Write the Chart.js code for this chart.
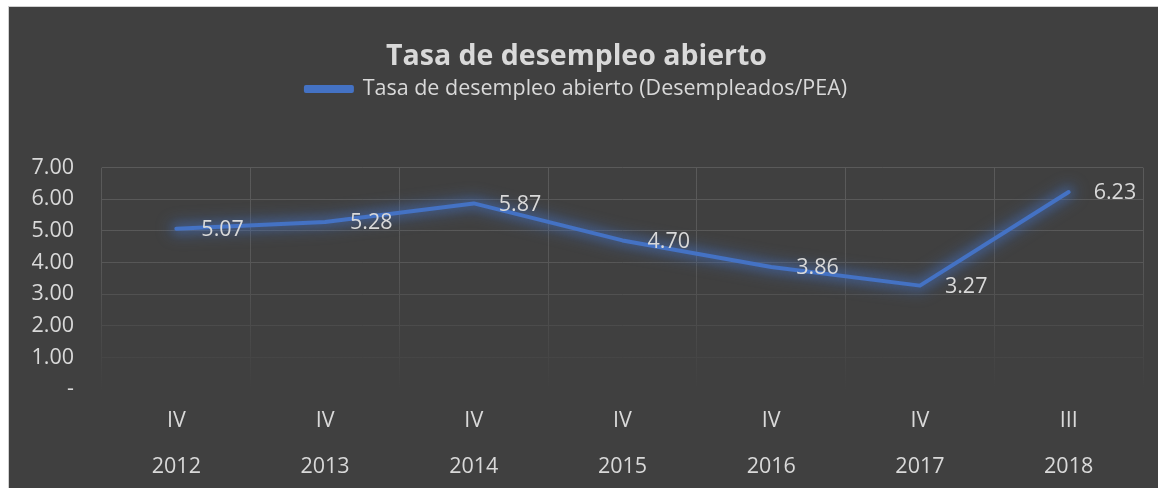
<!DOCTYPE html>
<html>
<head>
<meta charset="utf-8">
<script src="https://cdn.jsdelivr.net/npm/chart.js@4/dist/chart.umd.min.js"></script>
<style>
  html, body { margin: 0; padding: 0; background: #ffffff; }
  #box {
    position: absolute; left: 8px; top: 6px; width: 1150px; height: 482px;
    border: 1px solid #d0d0d0; border-right: none; border-bottom: none;
    background: #404040; box-sizing: border-box;
  }
  #wrap { position: absolute; left: 1px; top: 1px; width: 1149px; height: 481px; }
</style>
</head>
<body>
<div id="box"><div id="wrap"><canvas id="chart"></canvas></div></div>
<script>
// Chart data
const quarters = ['IV', 'IV', 'IV', 'IV', 'IV', 'IV', 'III'];
const years = ['2012', '2013', '2014', '2015', '2016', '2017', '2018'];
const rates = [5.07, 5.28, 5.87, 4.70, 3.86, 3.27, 6.23];
const yTicks = [0, 1, 2, 3, 4, 5, 6, 7];

const labels = quarters.map((q, i) => [q, years[i]]);
const FONT = "'Open Sans', sans-serif";
const TEXT = '#d9d9d9';
const SIZE = 21.5;

// Fading grid (gets dimmer toward the bottom of the plot)
function gridGradient(chart) {
  const area = chart.chartArea;
  if (!area) return '#595959';
  const g = chart.ctx.createLinearGradient(0, area.top, 0, area.bottom);
  g.addColorStop(0, '#5a5a5a');
  g.addColorStop(0.4, '#585858');
  g.addColorStop(1, '#404040');
  return g;
}

// Extra room between the legend and the plot
const legendGap = {
  id: 'legendGap',
  beforeInit(chart) {
    const fit = chart.legend.fit;
    chart.legend.fit = function () {
      fit.call(this);
      this.height += 58;
    };
  }
};

// Soft blue glow under the line
const glow = {
  id: 'glow',
  beforeDatasetsDraw(chart) {
    const ctx = chart.ctx;
    const pts = chart.getDatasetMeta(0).data;
    ctx.save();
    ctx.filter = 'blur(7px)';
    ctx.strokeStyle = 'rgba(68, 114, 196, 0.35)';
    ctx.lineWidth = 16;
    ctx.lineJoin = 'round';
    ctx.lineCap = 'round';
    ctx.beginPath();
    pts.forEach((p, i) => i ? ctx.lineTo(p.x, p.y) : ctx.moveTo(p.x, p.y));
    ctx.stroke();
    ctx.restore();
    ctx.save();
    ctx.shadowColor = 'rgba(68, 114, 196, 0.6)';
    ctx.shadowBlur = 10;
  },
  afterDatasetsDraw(chart) {
    chart.ctx.restore();
  }
};

// Value labels to the right of each point
const valueLabels = {
  id: 'valueLabels',
  afterDraw(chart) {
    const ctx = chart.ctx;
    const meta = chart.getDatasetMeta(0);
    ctx.save();
    ctx.font = SIZE + 'px ' + FONT;
    ctx.fillStyle = TEXT;
    ctx.textAlign = 'left';
    ctx.textBaseline = 'middle';
    meta.data.forEach((pt, i) => {
      ctx.fillText(rates[i].toFixed(2), pt.x + 25, pt.y + 1);
    });
    ctx.restore();
  }
};

new Chart(document.getElementById('chart'), {
  type: 'line',
  data: {
    labels: labels,
    datasets: [{
      label: 'Tasa de desempleo abierto (Desempleados/PEA)',
      data: rates,
      borderColor: '#4472C4',
      backgroundColor: '#4472C4',
      borderWidth: 4,
      borderCapStyle: 'round',
      borderJoinStyle: 'round',
      pointRadius: 0,
      tension: 0
    }]
  },
  options: {
    responsive: true,
    maintainAspectRatio: false,
    animation: false,
    layout: { padding: { left: 0, right: 16, top: 0, bottom: 0 } },
    plugins: {
      title: {
        display: true,
        text: 'Tasa de desempleo abierto',
        color: TEXT,
        font: { family: FONT, size: 28.5, weight: 'bold' },
        padding: { top: 32, bottom: 0 }
      },
      legend: {
        display: true,
        labels: {
          color: TEXT,
          font: { family: FONT, size: SIZE },
          boxWidth: 46,
          boxHeight: 4,
          padding: 4
        }
      },
      tooltip: { enabled: false }
    },
    scales: {
      x: {
        offset: true,
        border: { display: false },
        afterFit(scale) { scale.height = 100; },
        grid: { offset: true, drawTicks: false, color: ctx => gridGradient(ctx.chart), lineWidth: 1 },
        ticks: {
          color: TEXT,
          font: { family: FONT, size: SIZE, lineHeight: 46 / SIZE },
          padding: 9,
          maxRotation: 0
        }
      },
      y: {
        min: 0,
        max: 7,
        border: { display: false },
        afterBuildTicks(scale) {
          scale.ticks = yTicks.map(v => ({ value: v }));
        },
        afterFit(scale) { scale.width = 92; },
        grid: { drawTicks: false, color: ctx => gridGradient(ctx.chart), lineWidth: 1 },
        ticks: {
          color: TEXT,
          font: { family: FONT, size: SIZE },
          padding: 28,
          callback: v => v === 0 ? '-' : v.toFixed(2)
        }
      }
    }
  },
  plugins: [legendGap, glow, valueLabels]
});
</script>
</body>
</html>
